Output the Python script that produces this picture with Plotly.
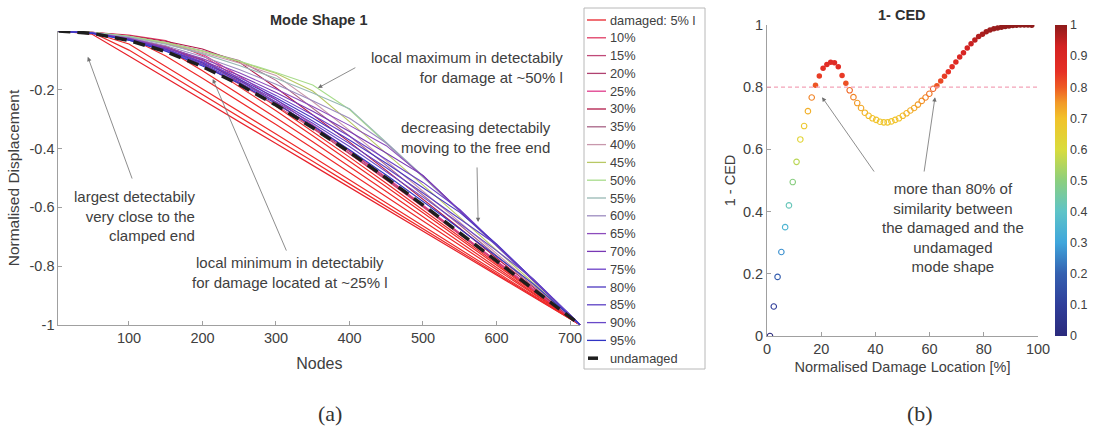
import plotly.graph_objects as go

# ---------------- data: panel (a) ----------------
nodes = [4, 50, 100, 150, 200, 250, 300, 350, 400, 450, 500, 550, 600, 650, 714]

undamaged = [0, -0.008, -0.032, -0.070, -0.121, -0.182, -0.252, -0.329, -0.412, -0.500, -0.592, -0.686, -0.782, -0.878, -1.0]

d05 = [0, -0.011, -0.085, -0.160, -0.234, -0.309, -0.383, -0.457, -0.532, -0.606, -0.681, -0.755, -0.830, -0.904, -1.0]
d10 = [0, -0.004, -0.014, -0.032, -0.083, -0.162, -0.244, -0.329, -0.417, -0.507, -0.599, -0.692, -0.786, -0.880, -1.0]
d15 = [0, -0.007, -0.027, -0.060, -0.114, -0.180, -0.253, -0.332, -0.416, -0.504, -0.596, -0.689, -0.784, -0.879, -1.0]
d20 = [0, -0.006, -0.024, -0.053, -0.098, -0.167, -0.243, -0.325, -0.410, -0.500, -0.593, -0.687, -0.782, -0.878, -1.0]
d25 = [0, -0.005, -0.019, -0.042, -0.078, -0.153, -0.233, -0.318, -0.406, -0.497, -0.591, -0.686, -0.782, -0.878, -1.0]
d30 = [0, -0.004, -0.016, -0.035, -0.061, -0.106, -0.193, -0.284, -0.378, -0.474, -0.572, -0.671, -0.772, -0.872, -1.0]
d35 = [0, -0.004, -0.018, -0.039, -0.067, -0.100, -0.168, -0.261, -0.357, -0.457, -0.558, -0.660, -0.764, -0.868, -1.0]
d40 = [0, -0.005, -0.019, -0.042, -0.073, -0.109, -0.151, -0.240, -0.338, -0.440, -0.545, -0.650, -0.757, -0.864, -1.0]
d45 = [0, -0.005, -0.018, -0.040, -0.069, -0.104, -0.144, -0.204, -0.308, -0.415, -0.524, -0.634, -0.746, -0.858, -1.0]
d50 = [0, -0.004, -0.018, -0.039, -0.068, -0.102, -0.141, -0.184, -0.267, -0.381, -0.497, -0.613, -0.731, -0.849, -1.0]
d55 = [0, -0.005, -0.020, -0.045, -0.077, -0.117, -0.161, -0.211, -0.264, -0.377, -0.493, -0.611, -0.730, -0.848, -1.0]
d60 = [0, -0.006, -0.023, -0.050, -0.087, -0.131, -0.181, -0.237, -0.297, -0.381, -0.496, -0.613, -0.731, -0.849, -1.0]
d65 = [0, -0.006, -0.025, -0.055, -0.094, -0.142, -0.197, -0.257, -0.321, -0.390, -0.493, -0.610, -0.729, -0.848, -1.0]
d70 = [0, -0.007, -0.027, -0.058, -0.100, -0.151, -0.209, -0.273, -0.342, -0.415, -0.491, -0.609, -0.728, -0.848, -1.0]
d75 = [0, -0.007, -0.028, -0.061, -0.105, -0.158, -0.219, -0.286, -0.358, -0.435, -0.515, -0.607, -0.727, -0.847, -1.0]
d80 = [0, -0.007, -0.029, -0.063, -0.109, -0.164, -0.227, -0.296, -0.371, -0.450, -0.533, -0.617, -0.724, -0.845, -1.0]
d85 = [0, -0.007, -0.030, -0.065, -0.113, -0.169, -0.234, -0.306, -0.383, -0.465, -0.551, -0.638, -0.727, -0.845, -1.0]
d90 = [0, -0.008, -0.031, -0.067, -0.116, -0.174, -0.241, -0.314, -0.393, -0.478, -0.565, -0.655, -0.747, -0.843, -1.0]
d95 = [0, -0.008, -0.031, -0.069, -0.119, -0.178, -0.247, -0.322, -0.404, -0.490, -0.580, -0.672, -0.766, -0.860, -1.0]

# additional near-clamp damage cases drawn without legend entries (red fan)
fan_b = [0, -0.005, -0.065, -0.140, -0.215, -0.291, -0.367, -0.443, -0.520, -0.596, -0.672, -0.749, -0.825, -0.902, -1.0]
fan_c = [0, -0.006, -0.044, -0.120, -0.196, -0.273, -0.350, -0.428, -0.506, -0.584, -0.663, -0.742, -0.820, -0.899, -1.0]
fan_d = [0, -0.006, -0.022, -0.085, -0.161, -0.239, -0.318, -0.399, -0.481, -0.563, -0.645, -0.728, -0.811, -0.894, -1.0]
fan_e = [0, -0.006, -0.024, -0.060, -0.135, -0.214, -0.295, -0.377, -0.461, -0.546, -0.632, -0.717, -0.803, -0.890, -1.0]
fan_f = [0, -0.006, -0.025, -0.052, -0.108, -0.188, -0.271, -0.356, -0.442, -0.530, -0.618, -0.707, -0.796, -0.886, -1.0]
fan_g = [0, -0.007, -0.026, -0.055, -0.098, -0.174, -0.256, -0.341, -0.429, -0.518, -0.608, -0.699, -0.791, -0.883, -1.0]

labels = ['damaged: 5% l', '10%', '15%', '20%', '25%', '30%', '35%', '40%', '45%', '50%',
          '55%', '60%', '65%', '70%', '75%', '80%', '85%', '90%', '95%']
damaged = [d05, d10, d15, d20, d25, d30, d35, d40, d45, d50,
           d55, d60, d65, d70, d75, d80, d85, d90, d95]
line_colors = ['#e8222b', '#e03a62', '#c04a78', '#b04270', '#e03c8c', '#b01848', '#a86486',
               '#c898ac', '#b8c864', '#a8dc8c', '#98b8b4', '#9c8cc0', '#8c4cbc', '#7838b4',
               '#6c40c8', '#4c38c0', '#5c40c4', '#6848c8', '#3034c4']
fan_extra = [fan_b, fan_c, fan_d, fan_e, fan_f, fan_g]

# ---------------- data: panel (b) ----------------
ced = [0.0, 0.095, 0.19, 0.27, 0.35, 0.42, 0.495, 0.56, 0.632, 0.675,
       0.723, 0.767, 0.806, 0.836, 0.861, 0.873, 0.880, 0.879, 0.866, 0.838,
       0.8125, 0.79, 0.768, 0.749, 0.733, 0.718, 0.708, 0.70, 0.695, 0.689,
       0.687, 0.687, 0.69, 0.695, 0.70, 0.708, 0.716, 0.725, 0.733, 0.744,
       0.756, 0.767, 0.779, 0.795, 0.805, 0.82, 0.835, 0.85, 0.866, 0.881,
       0.897, 0.911, 0.926, 0.94, 0.952, 0.963, 0.97, 0.978, 0.984, 0.988,
       0.99, 0.993, 0.995, 0.997, 0.998, 0.999, 1.0, 1.0, 1.0, 0.999]
location = [round(1.1 + 1.4 * i, 1) for i in range(len(ced))]
threshold = 0.8

cscale = [[0.0, '#2b2a7c'], [0.1, '#2f3e9a'], [0.2, '#3460b0'], [0.3, '#3fa6dc'],
          [0.4, '#5ec4c8'], [0.5, '#8ccf7e'], [0.6, '#d9dc3c'], [0.7, '#f2c22a'],
          [0.75, '#f29a28'], [0.8, '#ee5a24'], [0.85, '#e63026'], [0.93, '#d42222'],
          [1.0, '#8e1b1b']]

TXT = '#404040'
AX = '#a0a0a0'
FONT = 'Liberation Sans, Arial, sans-serif'
W, H = 1097, 438


def px(x):
    return x / W


def py(y):
    return 1 - y / H


fig = go.Figure()

# damaged 5% first, then extra red fan, then remaining cases, undamaged on top
fig.add_trace(go.Scatter(x=nodes, y=damaged[0], mode='lines', name=labels[0],
                         line=dict(color=line_colors[0], width=1.2), xaxis='x', yaxis='y'))
for ys in fan_extra:
    fig.add_trace(go.Scatter(x=nodes, y=ys, mode='lines', showlegend=False,
                             line=dict(color='#ee2a2a', width=1.2), xaxis='x', yaxis='y'))
for lab, ys, col in zip(labels[1:], damaged[1:], line_colors[1:]):
    fig.add_trace(go.Scatter(x=nodes, y=ys, mode='lines', name=lab,
                             line=dict(color=col, width=1.1), xaxis='x', yaxis='y'))
fig.add_trace(go.Scatter(x=nodes, y=undamaged, mode='lines', name='undamaged',
                         line=dict(color='#1e1e1e', width=3.5, dash='12px,7px'),
                         xaxis='x', yaxis='y'))

# panel (b): open markers below threshold, filled above
lo_x = [x for x, v in zip(location, ced) if v < threshold]
lo_y = [v for v in ced if v < threshold]
hi_x = [x for x, v in zip(location, ced) if v >= threshold]
hi_y = [v for v in ced if v >= threshold]

fig.add_trace(go.Scatter(x=lo_x, y=lo_y, mode='markers', showlegend=False,
                         marker=dict(symbol='circle-open', size=5.5, color=lo_y,
                                     colorscale=cscale, cmin=0, cmax=1,
                                     line=dict(width=1.1)),
                         xaxis='x2', yaxis='y2'))
fig.add_trace(go.Scatter(x=hi_x, y=hi_y, mode='markers', showlegend=False,
                         marker=dict(symbol='circle', size=5.5, color=hi_y,
                                     colorscale=cscale, cmin=0, cmax=1,
                                     line=dict(width=0), showscale=True,
                                     colorbar=dict(x=px(1055), xanchor='left', xpad=0,
                                                   y=py(336), yanchor='bottom', ypad=0,
                                                   len=311 / H, lenmode='fraction',
                                                   thickness=12, outlinewidth=0,
                                                   tickvals=[i / 10 for i in range(11)],
                                                   ticktext=['0', '0.1', '0.2', '0.3', '0.4', '0.5',
                                                             '0.6', '0.7', '0.8', '0.9', '1'],
                                                   tickfont=dict(size=12.5, color=TXT, family=FONT),
                                                   ticks='')),
                         xaxis='x2', yaxis='y2'))

axis_common = dict(showgrid=False, zeroline=False, showline=True, linecolor=AX, linewidth=1,
                   ticks='inside', ticklen=4, tickcolor=AX, mirror=False,
                   tickfont=dict(size=14.5, color=TXT, family=FONT))

fig.update_layout(
    width=W, height=H,
    margin=dict(l=0, r=0, t=0, b=0, autoexpand=False),
    paper_bgcolor='white', plot_bgcolor='white',
    font=dict(family=FONT, color=TXT),
    showlegend=False,
    xaxis=dict(domain=[px(58.4), px(580.3)], range=[4, 714], anchor='y',
               tickvals=[100, 200, 300, 400, 500, 600, 700],
               title=dict(text='Nodes', font=dict(size=16, color=TXT), standoff=12),
               **axis_common),
    yaxis=dict(domain=[py(325), py(31)], range=[-1, 0], anchor='x',
               tickvals=[-1, -0.8, -0.6, -0.4, -0.2], ticktext=['-1', '-0.8', '-0.6', '-0.4', '-0.2'],
               title=dict(text='Normalised Displacement', font=dict(size=15.5, color=TXT), standoff=6),
               **axis_common),
    xaxis2=dict(domain=[px(767), px(1038)], range=[0, 100], anchor='y2',
                tickvals=[0, 20, 40, 60, 80, 100],
                title=dict(text='Normalised Damage Location [%]', font=dict(size=14.5, color=TXT), standoff=5),
                **axis_common),
    yaxis2=dict(domain=[py(336), py(25)], range=[0, 1], anchor='x2',
                tickvals=[0, 0.2, 0.4, 0.6, 0.8, 1], ticktext=['0', '0.2', '0.4', '0.6', '0.8', '1'],
                title=dict(text='1 - CED', font=dict(size=14.5, color=TXT), standoff=3),
                **axis_common),
)

# threshold line in panel (b)
fig.add_shape(type='line', xref='x2 domain', yref='y2', x0=0, x1=1, y0=threshold, y1=threshold,
              line=dict(color='#f4a3b8', width=1.2, dash='4px,3px'))

# ---------------- legend box for panel (a) (built from labels/colours) ----------------
leg_left, leg_right, leg_top, leg_bottom = 584, 705, 8, 369
fig.add_shape(type='rect', xref='paper', yref='paper', x0=px(leg_left), x1=px(leg_right),
              y0=py(leg_bottom), y1=py(leg_top), line=dict(color='#b8b8b8', width=1),
              fillcolor='white', layer='below')
leg_labels = labels + ['undamaged']
leg_colors = line_colors + ['#1e1e1e']
step = 17.8
for i, (lab, col) in enumerate(zip(leg_labels, leg_colors)):
    yy = 20 + i * step
    if lab == 'undamaged':
        fig.add_shape(type='line', xref='paper', yref='paper', x0=px(588), x1=px(598),
                      y0=py(yy), y1=py(yy), line=dict(color=col, width=3.5))
    else:
        fig.add_shape(type='line', xref='paper', yref='paper', x0=px(587), x1=px(606),
                      y0=py(yy), y1=py(yy), line=dict(color=col, width=1.3))
    fig.add_annotation(x=px(608), y=py(yy), xref='paper', yref='paper', xanchor='left',
                       yanchor='middle', showarrow=False, text=lab,
                       font=dict(size=12.8, color=TXT, family=FONT))

ann_font = dict(size=15, color=TXT, family=FONT)
arrow_style = dict(showarrow=True, arrowhead=2, arrowsize=1.1, arrowwidth=0.8,
                   arrowcolor='#707070', text='')

# titles
fig.add_annotation(x=px(319), y=py(20), xref='paper', yref='paper', showarrow=False,
                   xanchor='center', yanchor='middle',
                   text='<b>Mode Shape 1</b>', font=dict(size=14.5, color='#303030', family=FONT))
fig.add_annotation(x=px(902), y=py(15), xref='paper', yref='paper', showarrow=False,
                   xanchor='center', yanchor='middle',
                   text='<b>1- CED</b>', font=dict(size=14.5, color='#303030', family=FONT))

# panel (a) annotations
fig.add_annotation(x=193, y=-0.629, xref='x', yref='y', xanchor='right', yanchor='middle',
                   align='right', showarrow=False, font=ann_font,
                   text='largest detectabily<br>very close to the<br>clamped end')
fig.add_annotation(x=44, y=-0.088, ax=105, ay=-0.507, xref='x', yref='y', axref='x', ayref='y',
                   **arrow_style)
fig.add_annotation(x=319, y=-0.821, xref='x', yref='y', xanchor='center', yanchor='middle',
                   align='center', showarrow=False, font=ann_font,
                   text='local minimum in detectabily<br>for damage located at ~25% l')
fig.add_annotation(x=214, y=-0.163, ax=315, ay=-0.752, xref='x', yref='y', axref='x', ayref='y',
                   **arrow_style)
fig.add_annotation(x=693, y=-0.124, xref='x', yref='y', xanchor='right', yanchor='middle',
                   align='right', showarrow=False, font=ann_font,
                   text='local maximum in detectabily<br>for damage at ~50% l')
fig.add_annotation(x=357, y=-0.194, ax=410, ay=-0.122, xref='x', yref='y', axref='x', ayref='y',
                   **arrow_style)
fig.add_annotation(x=572, y=-0.362, xref='x', yref='y', xanchor='center', yanchor='middle',
                   align='center', showarrow=False, font=ann_font,
                   text='decreasing detectabily<br>moving to the free end')
fig.add_annotation(x=575, y=-0.65, ax=573.5, ay=-0.459, xref='x', yref='y', axref='x', ayref='y',
                   **arrow_style)

# panel (b) annotations
fig.add_annotation(x=68.6, y=0.349, xref='x2', yref='y2', xanchor='center', yanchor='middle',
                   align='center', showarrow=False, font=ann_font,
                   text='more than 80% of<br>similarity between<br>the damaged and the<br>undamaged<br>mode shape')
fig.add_annotation(x=20.3, y=0.768, ax=39.9, ay=0.524, xref='x2', yref='y2', axref='x2', ayref='y2',
                   **arrow_style)
fig.add_annotation(x=62.0, y=0.768, ax=57.9, ay=0.524, xref='x2', yref='y2', axref='x2', ayref='y2',
                   **arrow_style)

# panel labels
fig.add_annotation(x=px(330), y=py(413), xref='paper', yref='paper', showarrow=False,
                   xanchor='center', yanchor='middle',
                   text='(a)', font=dict(size=22, color='#333333', family='Liberation Serif, serif'))
fig.add_annotation(x=px(920), y=py(413), xref='paper', yref='paper', showarrow=False,
                   xanchor='center', yanchor='middle',
                   text='(b)', font=dict(size=22, color='#333333', family='Liberation Serif, serif'))

fig.write_html('out.html')
